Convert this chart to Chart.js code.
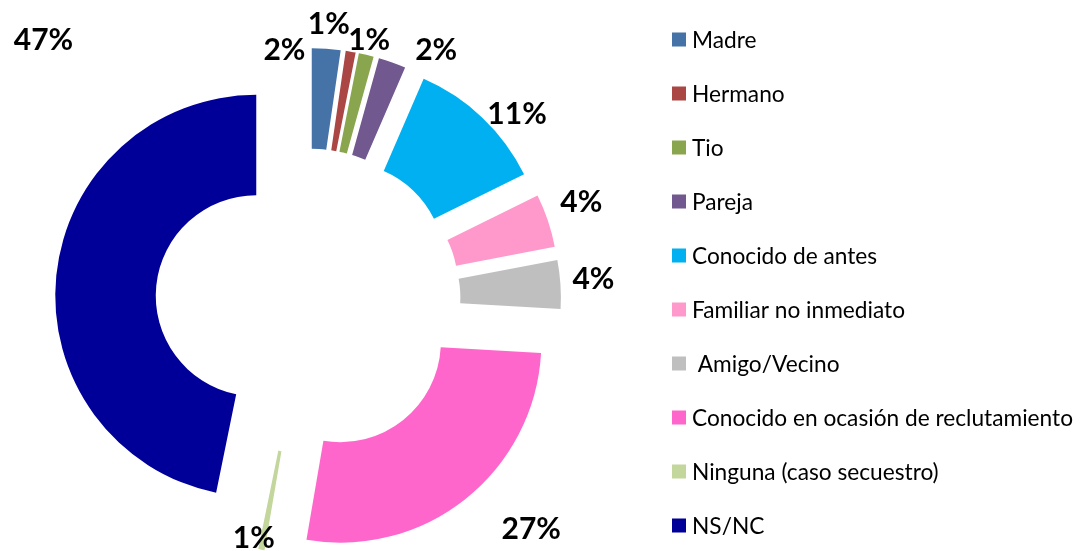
<!DOCTYPE html>
<html>
<head>
<meta charset="utf-8">
<script src="https://cdn.jsdelivr.net/npm/chart.js@4/dist/chart.umd.min.js"></script>
<style>
html,body{margin:0;padding:0;background:#fff;overflow:hidden}
#wrap{position:relative;width:1081px;height:551px}
</style>
</head>
<body>
<div id="wrap"><canvas id="c" width="1081" height="551"></canvas></div>
<script>
// ---- data ----
const categories = ['Madre', 'Hermano', 'Tio', 'Pareja', 'Conocido de antes', 'Familiar no inmediato',
  ' Amigo/Vecino', 'Conocido en ocasión de reclutamiento', 'Ninguna (caso secuestro)', 'NS/NC'];
const shares = [2.3, 0.8, 1.2, 2.2, 11.2, 4.3, 3.9, 26.8, 0.5, 46.8];
const pctLabels = ['2%', '1%', '1%', '2%', '11%', '4%', '4%', '27%', '1%', '47%'];

// ---- styles ----
const colors = ['#4572A7', '#AA4643', '#89A54E', '#71588F', '#00B0F0', '#FF99CC',
  '#BFBFBF', '#FF66CC', '#C3D69B', '#000099'];
const EXPLODE = 52;
const LABEL_GAP = 30;
const labelNudge = [[-44, 30], [-27, 1], [-4, 13], [34, 15], [14, 17], [5, -10],
  [3, -4], [47, 6], [-2, -42], [17, -234]];

const explodePlugin = {
  id: 'explode',
  beforeDatasetDraw(chart, args) {
    const meta = args.meta;
    meta.data.forEach(el => {
      const mid = (el.startAngle + el.endAngle) / 2;
      el._ox = el.x; el._oy = el.y;
      el.x = el._ox + Math.cos(mid) * EXPLODE;
      el.y = el._oy + Math.sin(mid) * EXPLODE;
    });
  },
  afterDatasetDraw(chart, args) {
    args.meta.data.forEach(el => { el.x = el._ox; el.y = el._oy; });
  }
};

const labelPlugin = {
  id: 'pctLabels',
  afterDatasetsDraw(chart) {
    const ctx = chart.ctx;
    const meta = chart.getDatasetMeta(0);
    ctx.save();
    ctx.font = 'bold 30px Lato, "Open Sans", sans-serif';
    ctx.fillStyle = '#000';
    ctx.textAlign = 'center';
    ctx.textBaseline = 'alphabetic';
    meta.data.forEach((el, i) => {
      const mid = (el.startAngle + el.endAngle) / 2;
      const rr = EXPLODE + el.outerRadius + LABEL_GAP;
      const x = el.x + Math.cos(mid) * rr + labelNudge[i][0];
      const y = el.y + Math.sin(mid) * rr + labelNudge[i][1];
      ctx.fillText(pctLabels[i], x, y + 11);
    });
    ctx.restore();
  }
};

const legendPlugin = {
  id: 'sideLegend',
  afterDraw(chart) {
    const ctx = chart.ctx;
    ctx.save();
    ctx.font = '22.7px Lato, "Open Sans", sans-serif';
    ctx.textBaseline = 'middle';
    ctx.textAlign = 'left';
    categories.forEach((name, i) => {
      const cy = 39.5 + 54 * i;
      ctx.fillStyle = colors[i];
      ctx.fillRect(672, cy - 7, 14, 14);
      ctx.fillStyle = '#000';
      ctx.fillText(name, 692, cy + 1);
    });
    ctx.restore();
  }
};

new Chart(document.getElementById('c'), {
  type: 'doughnut',
  data: {
    labels: categories,
    datasets: [{ data: shares, backgroundColor: colors, borderWidth: 0 }]
  },
  options: {
    responsive: false,
    animation: false,
    cutout: '50%',
    rotation: 0,
    layout: { padding: { left: 107, top: 100, right: 572, bottom: 49 } },
    plugins: { legend: { display: false }, tooltip: { enabled: false } },
    events: []
  },
  plugins: [explodePlugin, labelPlugin, legendPlugin]
});
</script>
</body>
</html>
